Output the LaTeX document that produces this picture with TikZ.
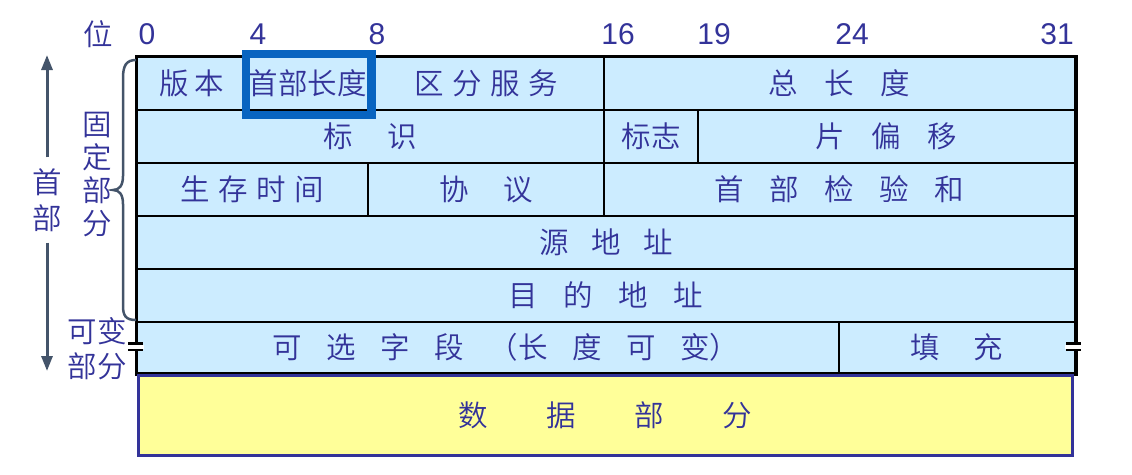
\documentclass[tikz,border=0pt]{standalone}
\usepackage{fontspec}
\setmainfont{Liberation Sans}
\newfontfamily\cjk{Noto Sans CJK SC}[UprightFont={* DemiLight}]
\usetikzlibrary{arrows.meta}
\definecolor{txt}{HTML}{333399}
\definecolor{cellblue}{HTML}{CCECFF}
\definecolor{datayel}{HTML}{FFFF99}
\definecolor{hlblue}{HTML}{0864C0}
\definecolor{grayblue}{HTML}{44546A}
\newcommand\gp[1]{\hspace{#1pt}}
\newcommand\cell[6]{\node[cellbox,anchor=north west,minimum width={(#3-#2)*1pt},minimum height={(#5-#4)*1pt}] (#1) at (#2,#4) {#6};}
\tikzset{
  cellbox/.style={draw=black,line width=2pt,fill=cellblue,inner sep=0pt,text=txt,font=\cjk\fontsize{29.5}{33}\selectfont},
  lbl/.style={text=txt,inner sep=0pt,align=center,font=\cjk\fontsize{29.5}{33}\selectfont},
  num/.style={text=txt,inner sep=0pt,font=\fontsize{30}{36}\selectfont},
  arr/.style={draw=grayblue,line width=3pt,-{Triangle[width=11pt,length=15pt]}},
  bracestyle/.style={draw=grayblue,line width=2.5pt},
  brk/.style={draw=black,line width=2.6pt}
}
\begin{document}
\begin{tikzpicture}[x=1pt,y=-1pt]
\useasboundingbox (0,0) rectangle (1132,474);
% bit numbers
\node[lbl] (wei) at (98,34) {位};
\node[num] (b0) at (147,34) {0};
\node[num] (b4) at (258,34) {4};
\node[num] (b8) at (377,34) {8};
\node[num] (b16) at (618,34) {16};
\node[num] (b19) at (714,34) {19};
\node[num] (b24) at (852,34) {24};
\node[num] (b31) at (1057,34) {31};
% row 1
\cell{ver}{136}{246}{56}{109}{版\gp{5.5}本}
\cell{hlen}{246}{367}{56}{109}{首部长度}
\cell{tos}{367}{603}{56}{109}{区\gp{8.5}分\gp{8.5}服\gp{8.5}务}
\cell{tlen}{603}{1074}{56}{109}{总\gp{26.5}长\gp{26.5}度}
% row 2
\cell{ident}{136}{603}{109}{162}{标\gp{34.5}识\gp{12}}
\cell{flag}{603}{697}{109}{162}{标志}
\cell{frag}{697}{1074}{109}{162}{片\gp{26.5}偏\gp{26.5}移}
% row 3
\cell{ttl}{136}{367}{162}{215}{生\gp{8.5}存\gp{8.5}时\gp{8.5}间}
\cell{proto}{367}{603}{162}{215}{协\gp{34.5}议\gp{10}}
\cell{csum}{603}{1074}{162}{215}{首\gp{25.5}部\gp{25.5}检\gp{25.5}验\gp{25.5}和}
% row 4,5
\cell{src}{136}{1074}{215}{268}{源\gp{22.5}地\gp{22.5}址}
\cell{dst}{136}{1074}{268}{321}{目\gp{25.5}的\gp{25.5}地\gp{25.5}址}
% row 6
\cell{opt}{136}{838}{321}{372}{\gp{36}可\gp{24.5}选\gp{24.5}字\gp{24.5}段\gp{24.5}（长\gp{24.5}度\gp{24.5}可\gp{24.5}变）}
\cell{pad}{838}{1074}{321}{372}{填\gp{33.5}充}
\draw[line width=1.2pt] (pad.south west) -- ++(0,3);
% outer border
\draw[line width=3pt] (ver.north west) rectangle (pad.south east);
% data
\node[draw=txt,line width=2.5pt,fill=datayel,anchor=north west,minimum width=934pt,minimum height=80pt,inner sep=0pt,text=txt,font=\cjk\fontsize{29.5}{33}\selectfont] (data) at (137,374) {数\gp{58.5}据\gp{58.5}部\gp{58.5}分};
% highlight
\draw[hlblue,line width=8.5pt] (246,54) rectangle (371.5,115);
% break marks
\fill[white] (127,344.5) rectangle (144,348.5);
\draw[brk] (128,343.2) -- (143,343.2);
\draw[brk] (128,349.8) -- (143,349.8);
\fill[white] (1065,344.5) rectangle (1082,348.5);
\draw[brk] (1066,343.2) -- (1081,343.2);
\draw[brk] (1066,349.8) -- (1081,349.8);
% brace
\draw[bracestyle] (136,60) .. controls (126,60) and (123,66) .. (123,78) -- (123,176) .. controls (123,186) and (119,190) .. (113,190) .. controls (119,190) and (123,194) .. (123,204) -- (123,306) .. controls (123,316) and (126,320) .. (136,320);
% left labels
\node[lbl] (fixed) at (97,174.5) {固\\定\\部\\分};
\node[lbl,font=\cjk\fontsize{29.5}{35}\selectfont] (var) at (97,349) {可变\\部分};
\node[lbl,font=\cjk\fontsize{29.5}{36}\selectfont,minimum height=85pt] (hdr) at (47,200) {首\\部};
\coordinate (top) at (47,55);
\coordinate (bot) at (47,371);
\draw[arr] (hdr.north) -- (top);
\draw[arr] (hdr.south) -- (bot);
\end{tikzpicture}
\end{document}
